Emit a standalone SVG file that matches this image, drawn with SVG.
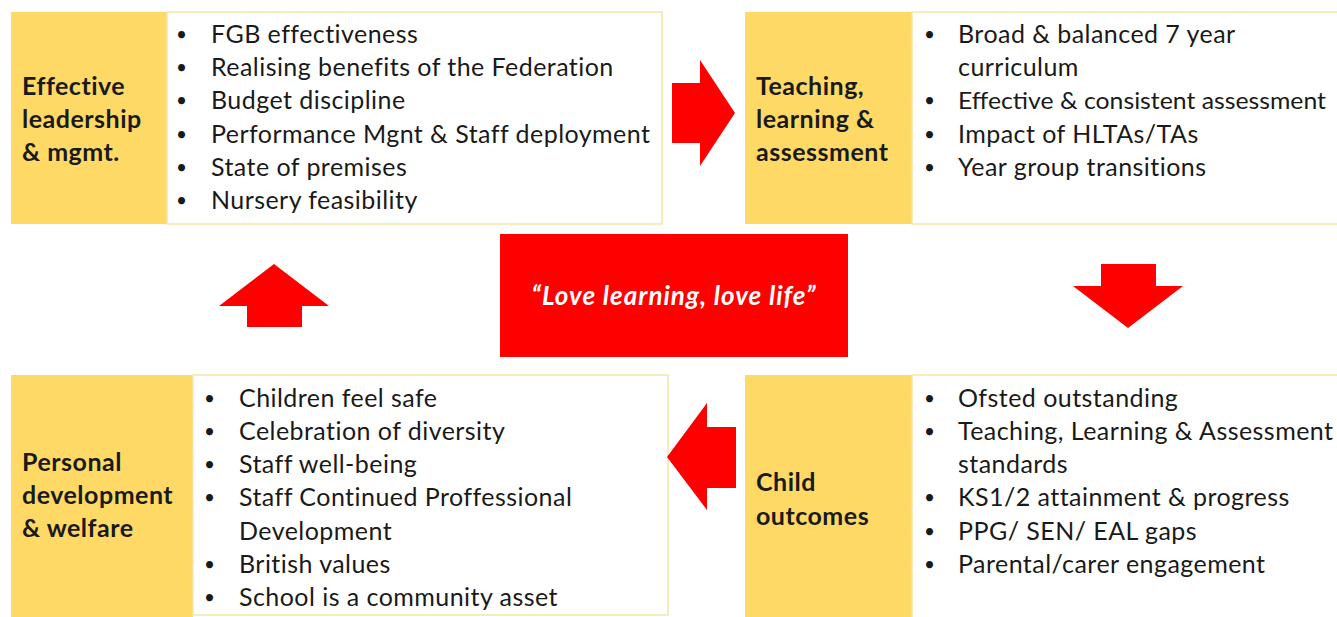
<svg xmlns="http://www.w3.org/2000/svg" width="1337" height="617" viewBox="0 0 1337 617">
<style>
.hdr{fill:#FFD966}
.box{fill:#FFFFFF;stroke:#F5E6A8;stroke-width:1.5}
.arrow{fill:#FF0000}
.t{font-family:Lato,"Open Sans",sans-serif;font-size:25px;letter-spacing:0.45px;fill:#1a1a1a}
.tn{font-family:Lato,"Open Sans",sans-serif;font-size:24px;fill:#1a1a1a}
.b{font-family:Lato,"Open Sans",sans-serif;font-size:19px;fill:#1a1a1a}
.h{font-family:Lato,"Open Sans",sans-serif;font-size:25px;letter-spacing:0.5px;font-weight:bold;fill:#1a1a1a}
.c{font-family:Lato,"Open Sans",sans-serif;font-size:26px;letter-spacing:1px;font-weight:bold;font-style:italic;fill:#FFFFFF}
</style>
<rect width="1337" height="617" fill="#FFFFFF"/>
<g id="node-leadership">
<rect class="hdr" x="11" y="12" width="156" height="212"/>
<rect class="box" x="167" y="12" width="495" height="212"/>
<text class="h"><tspan x="22" y="95">Effective</tspan><tspan x="22" y="128">leadership</tspan><tspan x="22" y="161">&amp; mgmt.</tspan></text>
<text class="b"><tspan x="176" y="41">•</tspan><tspan x="176" y="74">•</tspan><tspan x="176" y="107">•</tspan><tspan x="176" y="141">•</tspan><tspan x="176" y="174">•</tspan><tspan x="176" y="207">•</tspan></text>
<text class="t"><tspan x="211" y="43">FGB effectiveness</tspan><tspan x="211" y="76">Realising benefits of the Federation</tspan><tspan x="211" y="109">Budget discipline</tspan><tspan x="211" y="143">Performance Mgnt &amp; Staff deployment</tspan><tspan x="211" y="176">State of premises</tspan><tspan x="211" y="209">Nursery feasibility</tspan></text>
</g>
<g id="node-teaching">
<rect class="hdr" x="745" y="12" width="167" height="212"/>
<rect class="box" x="912" y="12" width="430" height="212"/>
<text class="h"><tspan x="756" y="95">Teaching,</tspan><tspan x="756" y="128">learning &amp;</tspan><tspan x="756" y="161">assessment</tspan></text>
<text class="b"><tspan x="924" y="41">•</tspan><tspan x="924" y="107">•</tspan><tspan x="924" y="141">•</tspan><tspan x="924" y="174">•</tspan></text>
<text class="t"><tspan x="958" y="43">Broad &amp; balanced 7 year</tspan><tspan x="958" y="76">curriculum</tspan></text>
<text class="tn" x="958" y="109" textLength="368" lengthAdjust="spacingAndGlyphs">Effective &amp; consistent assessment</text>
<text class="t"><tspan x="958" y="143">Impact of HLTAs/TAs</tspan><tspan x="958" y="176">Year group transitions</tspan></text>
</g>
<g id="node-personal">
<rect class="hdr" x="11" y="375" width="182" height="245"/>
<rect class="box" x="193" y="375" width="475" height="240"/>
<text class="h"><tspan x="22" y="471">Personal</tspan><tspan x="22" y="504">development</tspan><tspan x="22" y="537">&amp; welfare</tspan></text>
<text class="b"><tspan x="204" y="405">•</tspan><tspan x="204" y="438">•</tspan><tspan x="204" y="471">•</tspan><tspan x="204" y="504">•</tspan><tspan x="204" y="571">•</tspan><tspan x="204" y="604">•</tspan></text>
<text class="t"><tspan x="239" y="407">Children feel safe</tspan><tspan x="239" y="440">Celebration of diversity</tspan><tspan x="239" y="473">Staff well-being</tspan><tspan x="239" y="506">Staff Continued Proffessional</tspan><tspan x="239" y="540">Development</tspan><tspan x="239" y="573">British values</tspan><tspan x="239" y="606">School is a community asset</tspan></text>
</g>
<g id="node-outcomes">
<rect class="hdr" x="745" y="375" width="167" height="245"/>
<rect class="box" x="912" y="375" width="430" height="245"/>
<text class="h"><tspan x="756" y="491">Child</tspan><tspan x="756" y="525">outcomes</tspan></text>
<text class="b"><tspan x="924" y="405">•</tspan><tspan x="924" y="438">•</tspan><tspan x="924" y="504">•</tspan><tspan x="924" y="538">•</tspan><tspan x="924" y="571">•</tspan></text>
<text class="t"><tspan x="958" y="407">Ofsted outstanding</tspan><tspan x="958" y="440">Teaching, Learning &amp; Assessment</tspan><tspan x="958" y="473">standards</tspan><tspan x="958" y="506">KS1/2 attainment &amp; progress</tspan><tspan x="958" y="540">PPG/ SEN/ EAL gaps</tspan><tspan x="958" y="573">Parental/carer engagement</tspan></text>
</g>
<g id="node-motto">
<rect x="500" y="234" width="348" height="123" fill="#FF0000"/>
<text class="c" x="674" y="305" text-anchor="middle">“Love learning, love life”</text>
</g>
<g id="connectors">
<polygon class="arrow" points="672,83 700,83 700,60 735,113 700,166 700,143 672,143"/>
<polygon class="arrow" points="1101,264 1156,264 1156,286 1183,286 1128,328 1073,286 1101,286"/>
<polygon class="arrow" points="736,427 707,427 707,403 667,457 707,510 707,488 736,488"/>
<polygon class="arrow" points="247,327 247,306 219,306 274,264 329,306 302,306 302,327"/>
</g>
</svg>
